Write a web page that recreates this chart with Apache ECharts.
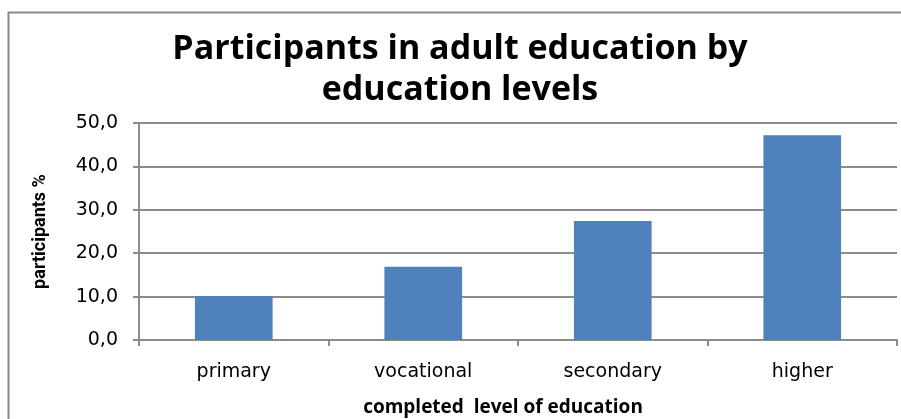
<!DOCTYPE html>
<html>
<head>
<meta charset="utf-8">
<script src="https://cdn.jsdelivr.net/npm/echarts@6/dist/echarts.min.js"></script>
<style>html,body{margin:0;padding:0;background:#fff}#c{width:901px;height:419px}</style>
</head>
<body>
<div id="c"></div>
<script>
const categories = ['primary', 'vocational', 'secondary', 'higher'];
const participants = [10.1, 16.9, 27.4, 47.2];
const titleLines = ['Participants in adult education by', 'education levels'];
const xName = 'completed  level of education';
const yName = 'participants %';

const chart = echarts.init(document.getElementById('c'));
chart.setOption({
  backgroundColor: '#fff',
  animation: false,
  graphic: [
    { type: 'rect', shape: { x: 8.5, y: 12.5, width: 950, height: 450 }, style: { fill: 'none', stroke: '#8a8a8a', lineWidth: 2 }, silent: true },
    { type: 'text', x: 460, y: 29, style: { text: titleLines.join('\n'), font: 'bold 34px "Open Sans"', fill: '#000', align: 'center', verticalAlign: 'top', lineHeight: 41 } }
  ],
  grid: { left: 139, right: 4, top: 123, bottom: 79, outerBoundsMode: 'none', containLabel: false },
  xAxis: {
    type: 'category',
    data: categories,
    axisLine: { lineStyle: { color: '#8c8c8c', width: 2 } },
    axisTick: { show: true, length: 6, lineStyle: { color: '#8c8c8c', width: 2 } },
    axisLabel: { color: '#000', fontFamily: 'DejaVu Sans', fontSize: 19, margin: 23 },
    name: xName,
    nameLocation: 'middle',
    nameGap: 58,
    nameTextStyle: { color: '#000', fontFamily: 'Open Sans', fontWeight: 'bold', fontSize: 19, padding: [0, 30, 0, 0] }
  },
  yAxis: {
    type: 'value',
    min: 0, max: 50, interval: 10,
    axisLine: { show: true, lineStyle: { color: '#8c8c8c', width: 2 } },
    axisTick: { show: true, length: 6, lineStyle: { color: '#8c8c8c', width: 2 } },
    splitLine: { lineStyle: { color: '#8c8c8c', width: 2 } },
    axisLabel: { color: '#000', fontFamily: 'DejaVu Sans', fontSize: 19, margin: 21, formatter: v => v.toFixed(1).replace('.', ',') },
    name: yName,
    nameLocation: 'middle',
    nameGap: 90,
    nameTextStyle: { color: '#000', fontFamily: 'Roboto', fontWeight: 'bold', fontSize: 18 }
  },
  series: [{
    type: 'bar',
    data: participants,
    barWidth: '41%',
    itemStyle: { color: '#4f81bd' }
  }]
});
</script>
</body>
</html>
